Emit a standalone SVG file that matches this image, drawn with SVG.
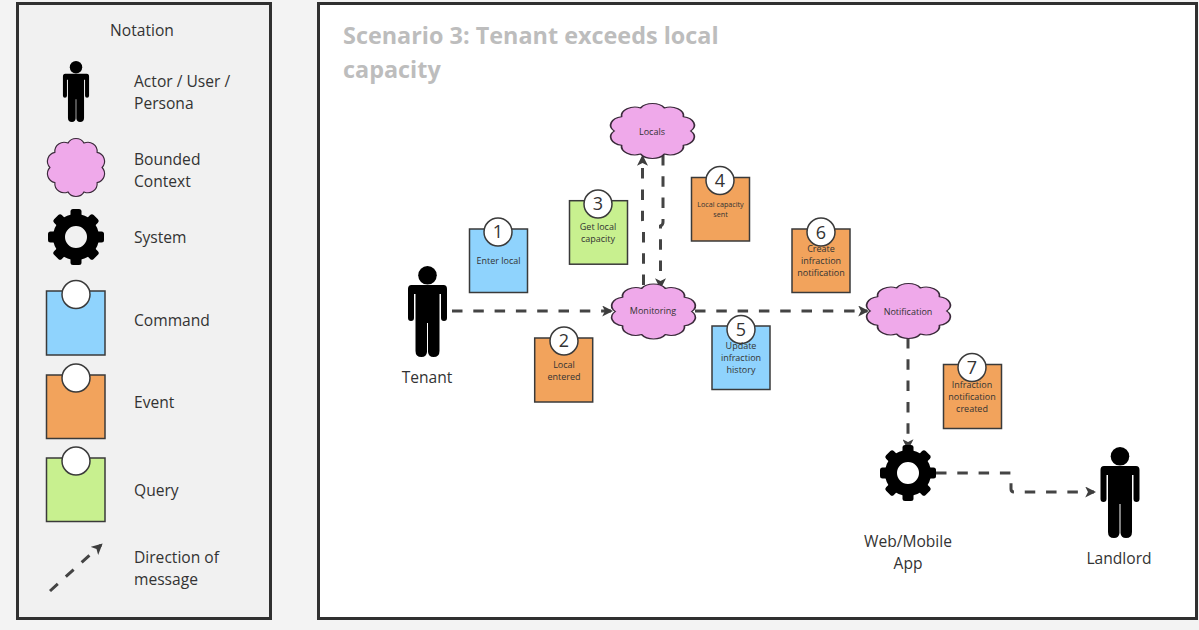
<svg xmlns="http://www.w3.org/2000/svg" width="1199" height="630" viewBox="0 0 1199 630">
<style>
text{font-family:"Open Sans","Noto Sans","Liberation Sans",sans-serif;fill:#333}
.lbl{font-size:15.600px}
.c{text-anchor:middle}
.s{font-size:9px}
.xs{font-size:7.200px}
.num{font-size:18px;text-anchor:middle;fill:#333}
.title{font-size:23.400px;font-weight:700;fill:#bdbdbd}
.panel{stroke:#303030;stroke-width:3}
.cloud{fill:#efa9ea;stroke:#3a2a3a;stroke-width:2;vector-effect:non-scaling-stroke}
.st{stroke:#3a3a3a;stroke-width:1.500}
.blue{fill:#8fd3fd}.orange{fill:#f2a35c}.green{fill:#c8f08f}
.dot{fill:#fff;stroke:#3a3a3a;stroke-width:1.500}
.msg{fill:none;stroke:#444;stroke-width:3;stroke-dasharray:10.500 10.800;marker-end:url(#arrow)}
</style>
<defs>
<marker id="arrow" markerUnits="userSpaceOnUse" markerWidth="11" markerHeight="11" refX="8" refY="5" viewBox="0 0 10 10" orient="auto"><path d="M0 0L10 5L0 10L2.500 5Z" fill="#3d3d3d"/></marker>
<g id="person"><circle cx="0" cy="9.300" r="9.300"/><path d="M-16 19H16Q19.500 19 19.500 23V52Q19.500 55 16.500 55Q13.500 55 13.500 52V28H12V85Q12 91 6 91Q1 91 .5 86V57H-.5V86Q-1 91-6 91Q-12 91-12 85V28H-13.500V52Q-13.500 55-16.500 55Q-19.500 55-19.500 52V23Q-19.500 19-16 19Z"/></g>
<path id="cl" d="M36.100 7.200A16 16 0 0 1 63.900 7.200A16 16 0 0 1 86.400 23.500A16 16 0 0 1 95 50A16 16 0 0 1 86.400 76.500A16 16 0 0 1 63.900 92.800A16 16 0 0 1 36.100 92.800A16 16 0 0 1 13.600 76.500A16 16 0 0 1 5 50A16 16 0 0 1 13.600 23.500A16 16 0 0 1 36.100 7.200Z"/>
<g id="gear"><circle r="17" fill="none" stroke="#000" stroke-width="12"/>
<g id="t"><rect x="-5.500" y="-28" width="11" height="12" rx="2.500"/><rect x="-5.500" y="16" width="11" height="12" rx="2.500"/></g>
<use href="#t" transform="rotate(45)"/><use href="#t" transform="rotate(90)"/><use href="#t" transform="rotate(135)"/></g>
</defs>
<rect width="1199" height="630" fill="#f3f3f3"/>
<g id="notation">
<rect class="panel" x="17.500" y="3.500" width="253" height="615" fill="#f1f1f1"/>
<text class="lbl c" x="142" y="36">Notation</text>
<g id="legend-actor"><use href="#person" transform="translate(76 61) scale(.67)"/><text class="lbl" x="134" y="87">Actor / User /</text><text class="lbl" x="134" y="109">Persona</text></g>
<g id="legend-context"><use href="#cl" class="cloud" transform="translate(47 139) scale(.58 .57)"/><text class="lbl" x="134" y="165">Bounded</text><text class="lbl" x="134" y="187">Context</text></g>
<g id="legend-system"><use href="#gear" transform="translate(76 237)"/><text class="lbl" x="134" y="243">System</text></g>
<g id="legend-command"><rect class="st blue" x="46.500" y="291" width="58.500" height="64"/><circle class="dot" cx="76" cy="294.500" r="14"/><text class="lbl" x="134" y="326">Command</text></g>
<g id="legend-event"><rect class="st orange" x="46.500" y="375" width="58.500" height="63.500"/><circle class="dot" cx="76" cy="378" r="14"/><text class="lbl" x="134" y="408">Event</text></g>
<g id="legend-query"><rect class="st green" x="46.500" y="458" width="58.500" height="63.500"/><circle class="dot" cx="76" cy="461" r="14"/><text class="lbl" x="134" y="496">Query</text></g>
<g id="legend-message"><path class="msg" d="M50 591L101 545"/><text class="lbl" x="134" y="563">Direction of</text><text class="lbl" x="134" y="585">message</text></g>
</g>
<rect id="canvas" class="panel" x="318.500" y="3.500" width="878" height="615" fill="#fff"/>
<text class="title" x="343" y="44">Scenario 3: Tenant exceeds local</text>
<text class="title" x="343" y="78">capacity</text>
<g id="connectors">
<path class="msg" d="M452 311H611"/>
<path class="msg" d="M695 311H867"/>
<path class="msg" d="M643.500 285V225Q642.500 222 642.500 220V157"/>
<path class="msg" d="M663 155V222Q663 225 660.500 226V287"/>
<path class="msg" d="M908 338V448"/>
<path class="msg" d="M936 473H1011V489Q1011 492 1014 492H1094"/>
</g>
<g id="tenant"><use href="#person" transform="translate(427.500 266)"/><text class="lbl c" x="427" y="383">Tenant</text></g>
<g id="landlord"><use href="#person" transform="translate(1120 447)"/><text class="lbl c" x="1119" y="564">Landlord</text></g>
<g id="locals"><use href="#cl" class="cloud" transform="translate(610 104) scale(.85 .54)"/><text class="s c" x="652" y="135">Locals</text></g>
<g id="monitoring"><use href="#cl" class="cloud" transform="translate(611 284.500) scale(.85 .54)"/><text class="s c" x="653" y="314">Monitoring</text></g>
<g id="notification"><use href="#cl" class="cloud" transform="translate(866 284) scale(.85 .54)"/><text class="s c" x="908" y="315">Notification</text></g>
<g id="web-app"><use href="#gear" transform="translate(908 473)"/><text class="lbl c" x="908" y="547">Web/Mobile</text><text class="lbl c" x="908" y="569">App</text></g>
<g id="step1"><rect class="st blue" x="469.500" y="229" width="58" height="63.500"/><circle class="dot" cx="498" cy="232" r="14"/><text class="num" x="498" y="238">1</text><text class="s c" x="498.500" y="264">Enter local</text></g>
<g id="step2"><rect class="st orange" x="534.700" y="338" width="58" height="64"/><circle class="dot" cx="564" cy="341" r="14"/><text class="num" x="564" y="347">2</text><text class="s c" x="564" y="368">Local</text><text class="s c" x="564" y="380">entered</text></g>
<g id="step3"><rect class="st green" x="569.500" y="200.700" width="58" height="63.500"/><circle class="dot" cx="598" cy="204" r="14"/><text class="num" x="598" y="210">3</text><text class="s c" x="598" y="230">Get local</text><text class="s c" x="598" y="242">capacity</text></g>
<g id="step4"><rect class="st orange" x="691.500" y="177.500" width="58" height="63.500"/><circle class="dot" cx="720" cy="180.500" r="14"/><text class="num" x="720" y="187">4</text><text class="xs c" x="720.500" y="207">Local capacity</text><text class="xs c" x="720.500" y="217">sent</text></g>
<g id="step5"><rect class="st blue" x="712" y="326" width="58" height="63.500"/><circle class="dot" cx="741" cy="329.500" r="14"/><text class="num" x="741" y="336">5</text><text class="s c" x="741" y="349">Update</text><text class="s c" x="741" y="361">infraction</text><text class="s c" x="741" y="373">history</text></g>
<g id="step6"><rect class="st orange" x="792" y="229" width="58" height="63.500"/><circle class="dot" cx="821" cy="232" r="14"/><text class="num" x="821" y="239">6</text><text class="s c" x="821" y="252">Create</text><text class="s c" x="821" y="264">infraction</text><text class="s c" x="821" y="276">notification</text></g>
<g id="step7"><rect class="st orange" x="943.500" y="364.500" width="58" height="64"/><circle class="dot" cx="972" cy="367.500" r="14"/><text class="num" x="972" y="374">7</text><text class="s c" x="972" y="388">Infraction</text><text class="s c" x="972" y="400">notification</text><text class="s c" x="972" y="412">created</text></g>
</svg>
